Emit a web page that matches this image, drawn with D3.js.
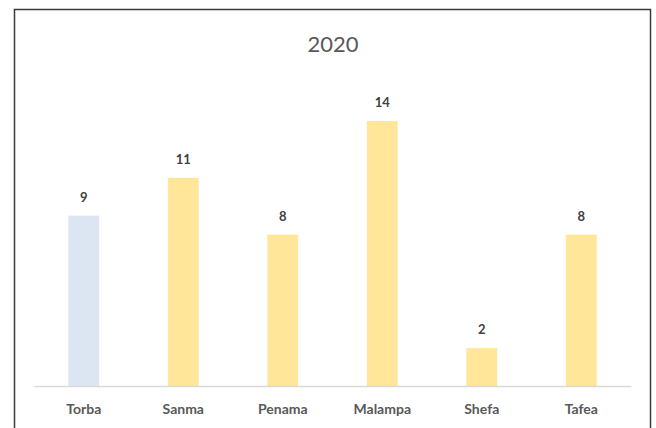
<!DOCTYPE html>
<html>
<head>
<meta charset="utf-8">
<script src="https://cdn.jsdelivr.net/npm/d3@7"></script>
<style>
  body { margin: 0; background: #fff; }
  svg { display: block; font-family: Lato, "Open Sans", sans-serif; }
</style>
</head>
<body>
<svg width="656" height="428"></svg>
<script>
// Data
var provinces = ["Torba", "Sanma", "Penama", "Malampa", "Shefa", "Tafea"];
var counts = [9, 11, 8, 14, 2, 8];
var barColors = ["#dce6f2", "#ffe699", "#ffe699", "#ffe699", "#ffe699", "#ffe699"];
var title = "2020";

var svg = d3.select("svg"),
    margin = {top: 121, right: 25, bottom: 42, left: 34},
    width = +svg.attr("width") - margin.left - margin.right,
    height = +svg.attr("height") - margin.top - margin.bottom;

var data = provinces.map(function(p, i) {
  return {name: p, value: counts[i], color: barColors[i]};
});

// outer frame of the chart area
svg.append("rect")
  .attr("x", 14.5)
  .attr("y", 9.5)
  .attr("width", 636)
  .attr("height", 440)
  .attr("fill", "none")
  .attr("stroke", "#3a3a3a")
  .attr("stroke-width", 1.5);

var g = svg.append("g").attr("transform", "translate(" + margin.left + "," + margin.top + ")");

var x = d3.scaleBand()
  .domain(provinces)
  .range([0, width])
  .paddingInner(0.69)
  .paddingOuter(0.345);

var y = d3.scaleLinear()
  .domain([0, 14])
  .range([height, 0]);

// title
svg.append("text")
  .attr("x", 333)
  .attr("y", 52)
  .attr("text-anchor", "middle")
  .attr("font-size", 22)
  .attr("fill", "#595959")
  .text(title);

// bars
g.selectAll(".bar")
  .data(data)
  .enter()
  .append("rect")
  .attr("class", "bar")
  .attr("x", function(d) { return x(d.name); })
  .attr("y", function(d) { return y(d.value); })
  .attr("width", x.bandwidth())
  .attr("height", function(d) { return height - y(d.value); })
  .attr("fill", function(d) { return d.color; });

// value labels
g.selectAll(".val")
  .data(data)
  .enter()
  .append("text")
  .attr("class", "val")
  .attr("x", function(d) { return x(d.name) + x.bandwidth() / 2; })
  .attr("y", function(d) { return y(d.value) - 14; })
  .attr("text-anchor", "middle")
  .attr("font-size", 13)
  .attr("font-weight", "bold")
  .attr("fill", "#404040")
  .text(function(d) { return d.value; });

// x axis
var xAxis = g.append("g")
  .attr("transform", "translate(0," + height + ")")
  .call(d3.axisBottom(x).tickSize(0).tickPadding(18));
xAxis.select(".domain").attr("stroke", "#d9d9d9").attr("stroke-width", 1.5);
xAxis.selectAll("text")
  .attr("font-family", "Lato, sans-serif")
  .attr("font-size", 14)
  .attr("font-weight", "bold")
  .attr("fill", "#595959");
</script>
</body>
</html>
